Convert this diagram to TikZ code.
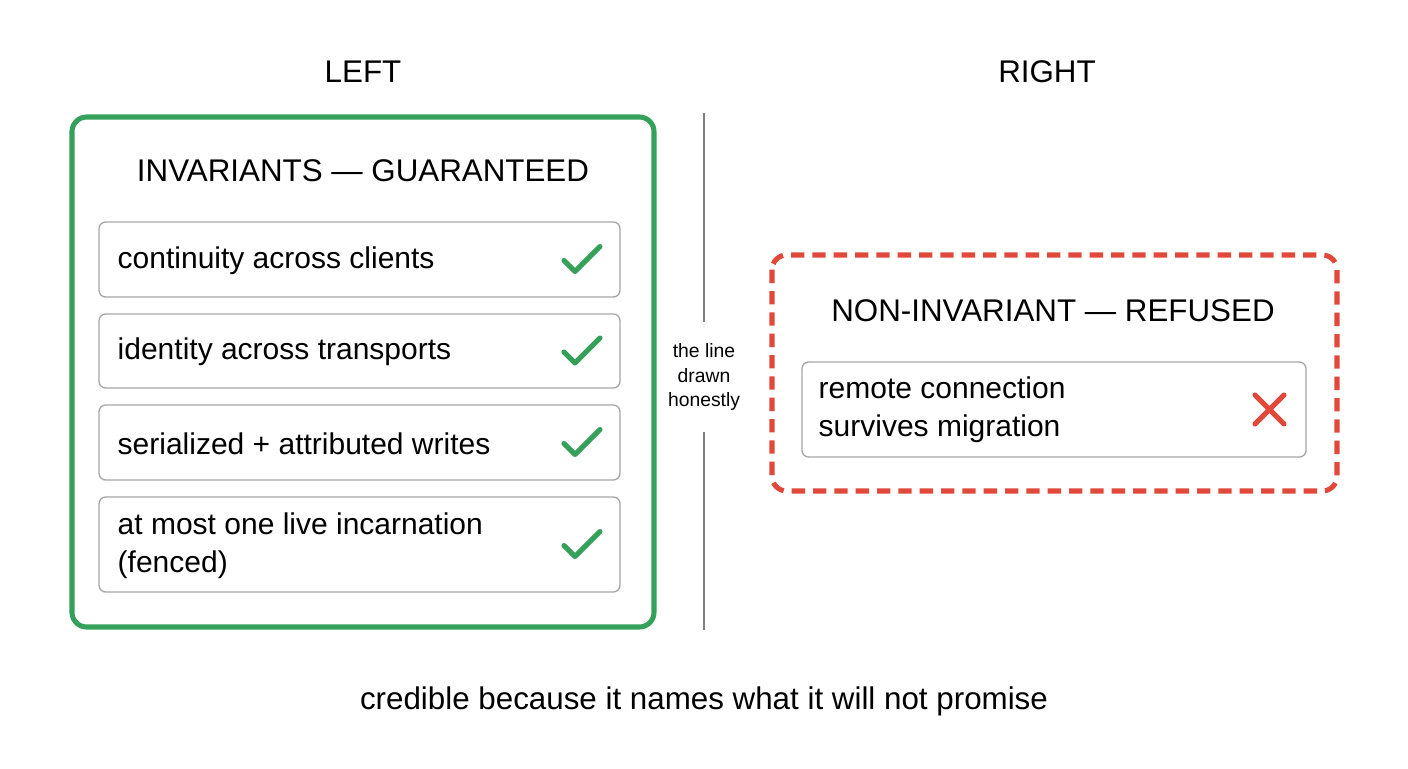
\documentclass[tikz,border=0pt]{standalone}
\usepackage{fontspec}
\setmainfont{Liberation Sans}
\begin{document}
\begin{tikzpicture}[x=0.75pt,y=-0.75pt,
  grn/.style={line width=3.8pt, rounded corners=11pt},
  red/.style={line width=3.8pt, rounded corners=11pt, dash pattern=on 10pt off 6pt},
  item/.style={draw=gray!70, line width=1pt, rounded corners=5pt, fill=white},
  itxt/.style={anchor=west, font=\fontsize{22.5}{28.5}\selectfont, align=left},
  ttl/.style={font=\fontsize{23.5}{28}\selectfont},
  chk/.style={line width=3.8pt, line cap=round, line join=round},
  crs/.style={line width=3.8pt, line cap=round}]
\useasboundingbox (0,0) rectangle (1408,768);
\definecolor{gr}{HTML}{34A05A}\definecolor{rd}{HTML}{E0493A}
\tikzset{grn/.append style={draw=gr}, red/.append style={draw=rd}, chk/.append style={draw=gr}, crs/.append style={draw=rd}}
\node[ttl] (lt) at (363,72) {LEFT};
\node[ttl] (rt) at (1047,72) {RIGHT};
\draw[grn] (72,117) rectangle (654,627);
\node[ttl] (it) at (363,171) {INVARIANTS — GUARANTEED};
\foreach \a/\b/\t [count=\i] in {222/297/continuity across clients,314/388/identity across transports,405/480/serialized + attributed writes,497/592/{at most one live incarnation\\(fenced)}}{
  \draw[item] (99,\a) rectangle (620,\b);
  \node[itxt] (t\i) at (113,{(\a+\b)/2+1}) {\t};
  \draw[chk] (564,{(\a+\b)/2+1}) -- (575,{(\a+\b)/2+12}) -- (600,{(\a+\b)/2-13});
}
\coordinate (v1) at (704,113); \coordinate (v2) at (704,322);
\coordinate (v3) at (704,432); \coordinate (v4) at (704,630);
\draw[gray, line width=1.6pt] (v1) -- (v2) (v3) -- (v4);
\node[align=center, font=\fontsize{14.5}{18.5}\selectfont] (hl) at (704,377) {the line\\drawn\\honestly};
\draw[red] (772,255) rectangle (1337,491);
\node[ttl] (nt) at (1053,311) {NON-INVARIANT — REFUSED};
\draw[item] (802,362) rectangle (1306,457);
\node[itxt] (rt1) at (814,410) {remote connection\\survives migration};
\draw[crs] (1255,395) -- (1284,424) (1284,395) -- (1255,424);
\node[ttl] (cap) at (704,701) {credible because it names what it will not promise};
\end{tikzpicture}
\end{document}
